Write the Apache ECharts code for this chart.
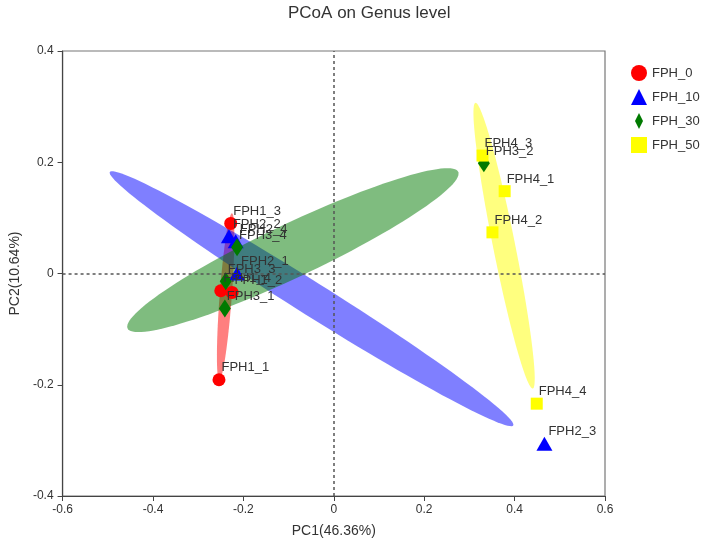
<!DOCTYPE html>
<html>
<head>
<meta charset="utf-8">
<script src="https://cdn.jsdelivr.net/npm/echarts@6/dist/echarts.min.js"></script>
<style>html,body{margin:0;padding:0;background:#fff}#c{width:708px;height:546px}</style>
</head>
<body>
<div id="c"></div>
<script>
// ---- data ----
const categories = ['FPH_0', 'FPH_10', 'FPH_30', 'FPH_50'];
const fph0Names = ['FPH1_1', 'FPH1_2', 'FPH1_3', 'FPH1_4'];
const fph0PC1 = [-0.254, -0.225, -0.228, -0.250];
const fph0PC2 = [-0.191, -0.034, 0.090, -0.031];
const fph10Names = ['FPH2_1', 'FPH2_2', 'FPH2_3', 'FPH2_4'];
const fph10PC1 = [-0.214, -0.232, 0.466, -0.217];
const fph10PC2 = [0.000, 0.067, -0.306, 0.058];
const fph30Names = ['FPH3_1', 'FPH3_2', 'FPH3_3', 'FPH3_4'];
const fph30PC1 = [-0.241, 0.332, -0.239, -0.214];
const fph30PC2 = [-0.063, 0.198, -0.014, 0.047];
const fph50Names = ['FPH4_1', 'FPH4_2', 'FPH4_3', 'FPH4_4'];
const fph50PC1 = [0.378, 0.351, 0.329, 0.449];
const fph50PC2 = [0.148, 0.074, 0.212, -0.234];
const xTicks = [-0.6, -0.4, -0.2, 0, 0.2, 0.4, 0.6];
const yTicks = [-0.4, -0.2, 0, 0.2, 0.4];

// ---- styling ----
const diamondPath = 'path://M5,0 L10,10 L5,20 L0,10 Z';
const groups = [
  {names: fph0Names, x: fph0PC1, y: fph0PC2, color: '#ff0000', symbol: 'circle', size: 13, icon: 'circle'},
  {names: fph10Names, x: fph10PC1, y: fph10PC2, color: '#0000ff', symbol: 'triangle', size: [16, 14], icon: 'triangle'},
  {names: fph30Names, x: fph30PC1, y: fph30PC2, color: '#007a00', symbol: 'diamond', size: [12, 18], icon: diamondPath},
  {names: fph50Names, x: fph50PC1, y: fph50PC2, color: '#ffff00', symbol: 'rect', size: 12, icon: 'rect'}
];
const ELLIPSE_K = 1.3;

function ellipseParams(xs, ys) {
  const n = xs.length;
  const mx = xs.reduce((a, b) => a + b, 0) / n;
  const my = ys.reduce((a, b) => a + b, 0) / n;
  let sxx = 0, syy = 0, sxy = 0;
  for (let i = 0; i < n; i++) {
    const dx = xs[i] - mx, dy = ys[i] - my;
    sxx += dx * dx; syy += dy * dy; sxy += dx * dy;
  }
  sxx /= (n - 1); syy /= (n - 1); sxy /= (n - 1);
  const tr = sxx + syy;
  const disc = Math.sqrt(((sxx - syy) / 2) ** 2 + sxy * sxy);
  const l1 = tr / 2 + disc, l2 = Math.max(tr / 2 - disc, 0);
  let vx = sxy, vy = l1 - sxx;
  if (Math.abs(vx) < 1e-12 && Math.abs(vy) < 1e-12) { vx = 1; vy = 0; }
  const len = Math.hypot(vx, vy);
  vx /= len; vy /= len;
  return {mx, my, a: ELLIPSE_K * Math.sqrt(l1), b: ELLIPSE_K * Math.sqrt(l2), vx, vy};
}

const series = [];
groups.forEach((g, gi) => {
  const p = ellipseParams(g.x, g.y);
  series.push({
    type: 'custom',
    name: categories[gi] + '_ellipse',
    silent: true,
    z: 1,
    data: [[p.mx, p.my]],
    renderItem: function (params, api) {
      const pts = [];
      for (let k = 0; k < 120; k++) {
        const t = k / 120 * Math.PI * 2;
        const c = Math.cos(t) * p.a, s = Math.sin(t) * p.b;
        const dx = c * p.vx - s * p.vy;
        const dy = c * p.vy + s * p.vx;
        pts.push(api.coord([p.mx + dx, p.my + dy]));
      }
      return {type: 'polygon', shape: {points: pts, smooth: 0}, style: {fill: g.color, opacity: 0.5}};
    }
  });
});

groups.forEach((g, gi) => {
  series.push({
    type: 'scatter',
    name: categories[gi],
    z: 5,
    symbol: g.symbol,
    symbolSize: g.size,
    itemStyle: {color: g.color, opacity: 1},
    label: {
      show: true,
      formatter: (d) => d.data[2],
      position: 'right',
      distance: 0,
      offset: [-4, -12],
      color: '#333',
      fontSize: 13,
      fontFamily: 'Liberation Sans, Arial, sans-serif'
    },
    emphasis: {disabled: true},
    data: g.x.map((v, i) => [v, g.y[i], g.names[i]])
  });
});

series.push({
  type: 'scatter',
  name: 'zero',
  data: [],
  z: 3,
  markLine: {
    silent: true,
    symbol: ['none', 'none'],
    label: {show: false},
    lineStyle: {color: '#555', type: [3, 3], width: 1.5},
    data: [{xAxis: 0}, {yAxis: 0}]
  }
});

const fmt = (v) => {
  const r = Math.round(v * 10) / 10;
  return r === 0 ? '0' : String(r);
};

const chart = echarts.init(document.getElementById('c'), null, {renderer: 'canvas'});
chart.setOption({
  animation: false,
  backgroundColor: '#fff',
  textStyle: {fontFamily: 'Liberation Sans, Arial, sans-serif'},
  title: {
    text: 'PCoA on Genus level',
    left: 283,
    top: 0,
    textStyle: {fontSize: 17, fontWeight: 'normal', color: '#333', fontFamily: 'Liberation Sans, Arial, sans-serif'}
  },
  legend: {
    data: categories.map((c, i) => ({name: c, icon: groups[i].icon})),
    orient: 'vertical',
    left: 626,
    top: 60,
    itemWidth: 16,
    itemHeight: 16,
    itemGap: 8,
    textStyle: {fontSize: 13, color: '#333'}
  },
  grid: {left: 62, right: 103, top: 51, bottom: 50, show: true, borderColor: '#777', borderWidth: 1.2, containLabel: false},
  xAxis: {
    type: 'value',
    min: xTicks[0],
    max: xTicks[xTicks.length - 1],
    interval: 0.2,
    name: 'PC1(46.36%)',
    nameLocation: 'middle',
    nameGap: 28,
    nameTextStyle: {fontSize: 14, color: '#333'},
    axisLine: {show: true, onZero: false, lineStyle: {color: '#444', width: 1.2}},
    axisTick: {show: true, length: 5, lineStyle: {color: '#444'}},
    axisLabel: {color: '#333', fontSize: 12, margin: 8, formatter: fmt},
    splitLine: {show: false}
  },
  yAxis: {
    type: 'value',
    min: yTicks[0],
    max: yTicks[yTicks.length - 1],
    interval: 0.2,
    name: 'PC2(10.64%)',
    nameLocation: 'middle',
    nameGap: 36,
    nameTextStyle: {fontSize: 14, color: '#333'},
    axisLine: {show: true, onZero: false, lineStyle: {color: '#444', width: 1.2}},
    axisTick: {show: true, length: 5, lineStyle: {color: '#444'}},
    axisLabel: {color: '#333', fontSize: 12, margin: 9, formatter: fmt},
    splitLine: {show: false}
  },
  series: series
});
</script>
</body>
</html>
